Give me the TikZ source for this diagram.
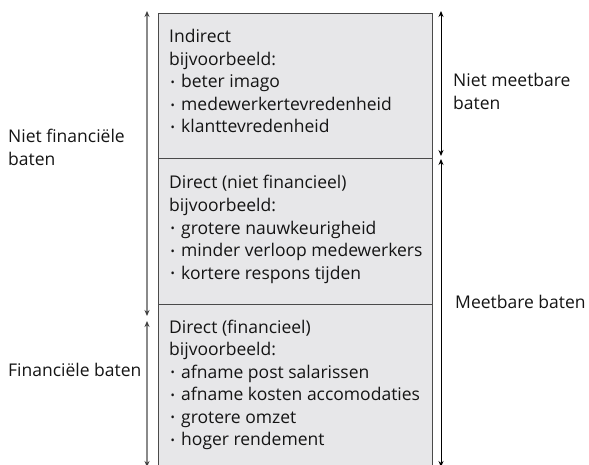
\documentclass[tikz,border=0pt]{standalone}
\usepackage{fontspec}
\setmainfont{Open Sans}
\usetikzlibrary{arrows.meta}
\definecolor{boxfill}{HTML}{E7E7E9}
\definecolor{boxline}{HTML}{4A4A4A}
\definecolor{txt}{HTML}{141414}
\definecolor{grayarrow}{HTML}{8A8A8A}
\newcommand\mybul{\makebox[12pt][l]{\hspace{1.5pt}\raisebox{0.08em}{\scalebox{0.65}{•}}}}
\tikzset{
  boxrect/.style={draw=boxline, fill=boxfill, line width=1.1pt, inner sep=0pt, anchor=north west},
  line/.style={anchor=base west, inner sep=0pt, text=txt, font=\fontsize{17.5}{20}\selectfont},
  dimarrow/.style={{Stealth[length=6pt,width=5pt]}-{Stealth[length=6pt,width=5pt]}},
  grayarr/.style={{Stealth[length=6pt,width=5pt,color=black!75]}-{Stealth[length=6pt,width=5pt,color=black!75]}, draw=grayarrow, line width=1.4pt},
}
\begin{document}
\begin{tikzpicture}[x=1pt,y=-1pt]
\useasboundingbox (0,0) rectangle (589,465);
\clip (0,0) rectangle (589,465);
% boxes
\node[boxrect, minimum width=274pt, minimum height=145pt] (b1) at (157.5,13) {};
\node[boxrect, minimum width=274pt, minimum height=146pt] (b2) at (157.5,158) {};
\node[boxrect, minimum width=274pt, minimum height=170pt] (b3) at (157.5,304) {};
% box texts
\node[line] (t1) at (169,43) {Indirect};
\node[line] (t1b) at (169,65.5) {bijvoorbeeld:};
\node[line] (t1c) at (169,88) {\mybul beter imago};
\node[line] (t1d) at (169,110.5) {\mybul medewerkertevredenheid};
\node[line] (t1e) at (169,133) {\mybul klanttevredenheid};
\node[line] (t2) at (169,189) {Direct (niet financieel)};
\node[line] (t2b) at (169,211.5) {bijvoorbeeld:};
\node[line] (t2c) at (169,234) {\mybul grotere nauwkeurigheid};
\node[line] (t2d) at (169,256.5) {\mybul minder verloop medewerkers};
\node[line] (t2e) at (169,279) {\mybul kortere respons tijden};
\node[line] (t3) at (169,333) {Direct (financieel)};
\node[line] (t3b) at (169,355.5) {bijvoorbeeld:};
\node[line] (t3c) at (169,378) {\mybul afname post salarissen};
\node[line] (t3d) at (169,400.5) {\mybul afname kosten accomodaties};
\node[line] (t3e) at (169,423) {\mybul grotere omzet};
\node[line] (t3f) at (169,445.5) {\mybul hoger rendement};
% side labels
\node[line] (l1) at (8,143) {Niet financiële};
\node[line] (l1b) at (8,165.5) {baten};
\node[line] (l2) at (8,376) {Financiële baten};
\node[line] (r1) at (453,87) {Niet meetbare};
\node[line] (r1b) at (453,109.5) {baten};
\node[line] (r2) at (455,308) {Meetbare baten};
% arrow end points
\coordinate (la) at (147,11);
\coordinate (lb) at (147,316);
\coordinate (lc) at (147,321);
\coordinate (ld) at (147,467);
\coordinate (ra) at (441,11);
\coordinate (rb) at (441,156);
\coordinate (rc) at (441,159);
\coordinate (rd) at (441,467);
\draw[grayarr] (la) -- (lb);
\draw[grayarr] (lc) -- (ld);
\draw[dimarrow, black, line width=0.9pt] (ra) -- (rb);
\draw[dimarrow, black, line width=0.9pt] (rc) -- (rd);
\end{tikzpicture}
\end{document}
